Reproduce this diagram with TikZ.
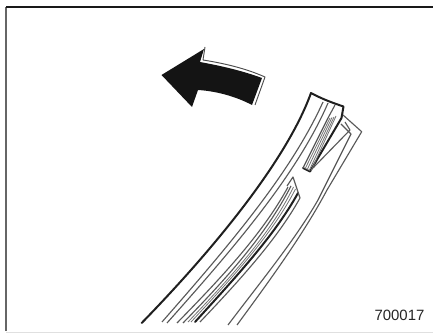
\documentclass[tikz,border=0pt]{standalone}
\usepackage{fontspec}
\setmainfont{Liberation Sans}
\begin{document}
\begin{tikzpicture}[x=0.75pt,y=-0.75pt,
  thin line/.style={draw=black!65,line width=0.85pt,line join=round},
  heavy line/.style={draw=black!88,line width=1.5pt,line join=round,line cap=round},
  hatch line/.style={draw=black!55,line width=0.6pt}]
\useasboundingbox (0,0) rectangle (433,334);
\fill[white] (0,0) rectangle (433,334);
% frame
\draw[black!60,line width=1.3pt] (6,331) -- (6,7);
\draw[black!90,line width=1.1pt] (6,7) -- (433,7);
\draw[black!12,line width=1pt] (6,332.5) -- (433,332.5);
% arrow
\draw[black!70,line width=0.7pt,line join=round] (205,47) -- (203,60) .. controls (222,63) and (245,68) .. (265,77) -- (255,105);
\fill[black!92] (161.5,75) -- (204,49) -- (200,62) .. controls (222,66) and (243,71) .. (262,78) -- (252,105)
  .. controls (235,96) and (215,91) .. (198,90) -- (192,107) -- cycle;
% blade outer
\draw[heavy line] (141.7,323) .. controls (205,258) and (285,165) .. (311,93)
  .. controls (322,99) and (333,103) .. (343.5,106.5) -- (341.5,118) -- (310,171.5) -- (303,168);
% long lines
\draw[thin line] (323,102) .. controls (290,175) and (225,250) .. (162,322);
\draw[thin line] (328,103) .. controls (297,175) and (232,250) .. (167,323);
\draw[thin line] (335,105) -- (328,118) -- (303,168);
% hatched upper part of blade
\draw[hatch line] (330,118) -- (305,169);
\draw[hatch line] (332,117.5) -- (307,170);
\draw[hatch line] (334,117) -- (309,171);
\draw[hatch line] (336,116) -- (311,171);
% hatched lower part of blade
\draw[thin line] (288,187) .. controls (262,235) and (218,281) .. (177,323);
\draw[thin line] (291,186) .. controls (266,235) and (225,280) .. (183,323);
\draw[hatch line] (293.5,187) .. controls (270,235) and (229,279) .. (188,322);
\draw[hatch line] (295.5,189) .. controls (272,235) and (231,279) .. (191,322);
\draw[heavy line] (298,193) .. controls (275,235) and (235,278) .. (195,322);
\draw[thin line] (287,186) -- (293,177) -- (300,198) .. controls (278,238) and (240,280) .. (200,322);
% outer clip lines
\draw[thin line] (228,325) .. controls (262,280) and (295,240) .. (318,200) -- (351,134) -- (341,124);
\draw[thin line] (237,325) .. controls (270,280) and (303,235) .. (327,190) -- (361.7,131.7) -- (343,115);
\draw[thin line] (345,122) -- (350,130) -- (313,168);
\node[font=\fontsize{11.2pt}{13pt}\selectfont,text=black!85,inner sep=0pt] (code) at (399.5,315) {700017};
\end{tikzpicture}
\end{document}
